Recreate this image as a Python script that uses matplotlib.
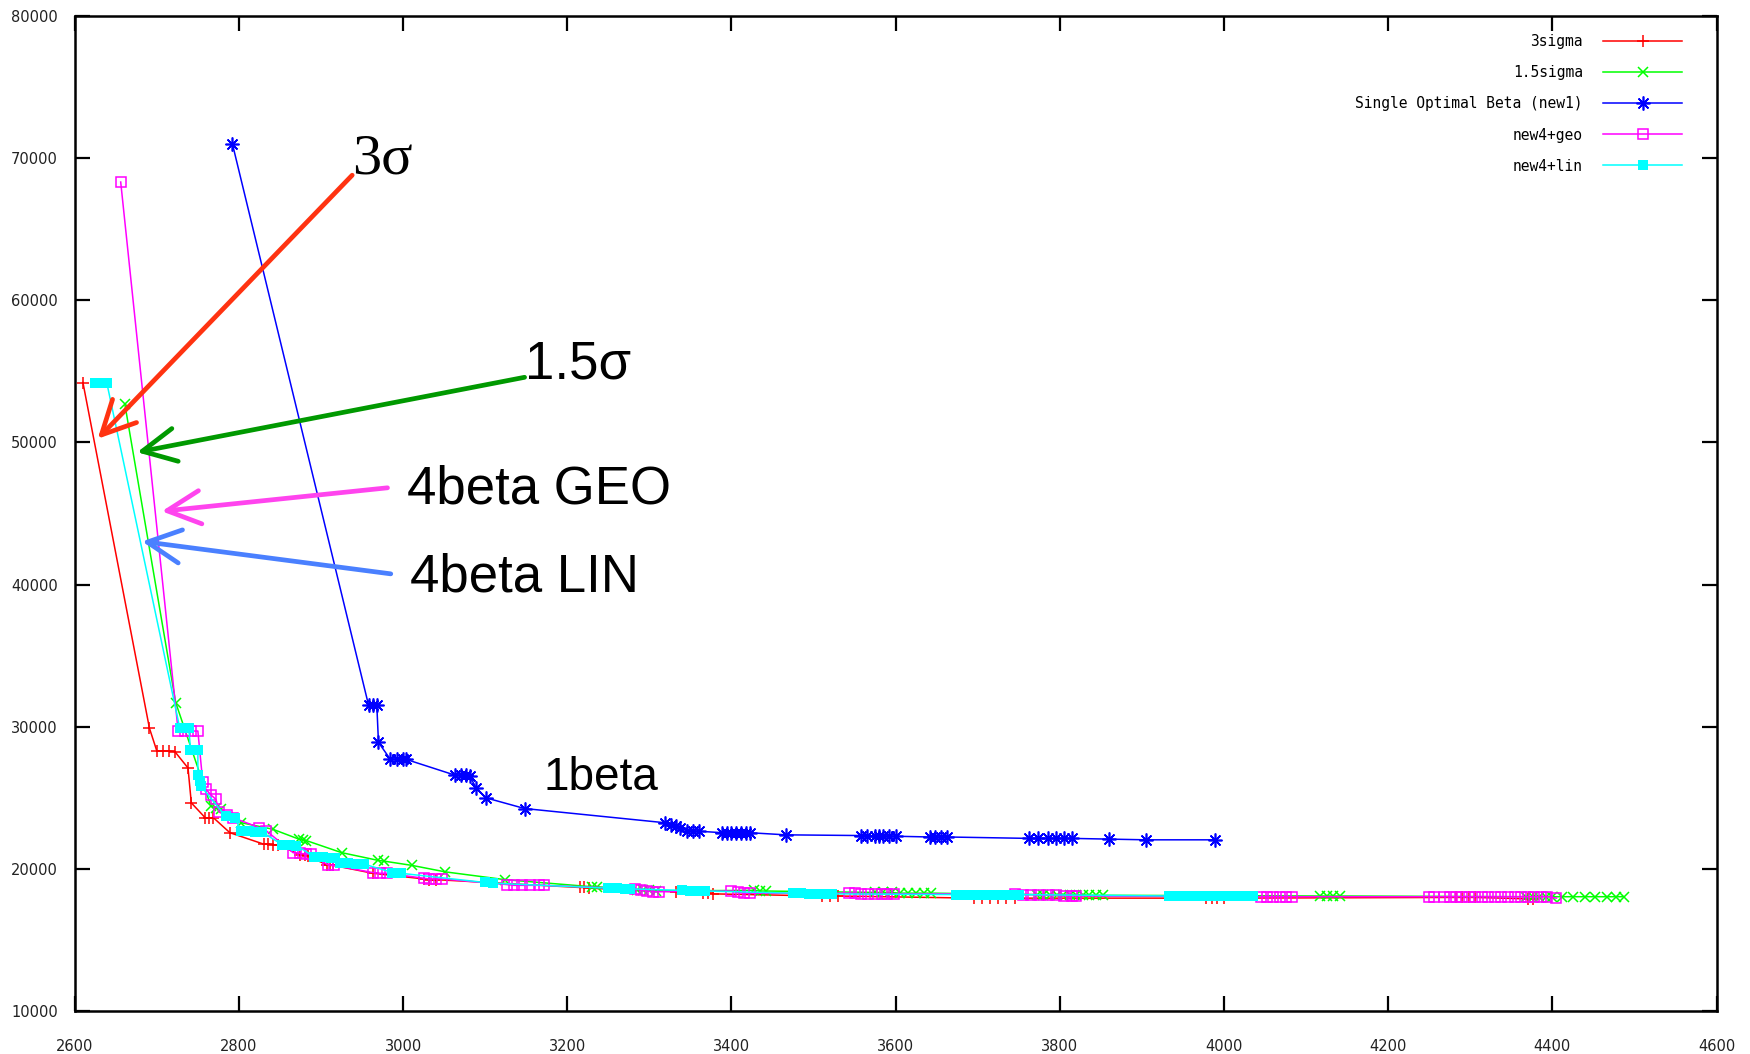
import matplotlib
matplotlib.use("Agg")
import matplotlib.pyplot as plt

# 3sigma
red_x = [2610, 2691, 2700, 2708, 2715, 2722, 2738, 2742, 2759, 2764, 2769, 2789,
         2830, 2836, 2842, 2848, 2874, 2880, 2884, 2907, 2911, 2915, 2963,
         3025, 3032, 3040, 3215, 3220, 3226, 3333, 3365, 3372, 3378, 3510, 3520, 3530,
         3695, 3705, 3715, 3725, 3735, 3745, 3978, 3985, 3992, 4000,
         4282, 4290, 4298, 4306, 4370, 4376]
red_y = [54200, 29900, 28300, 28300, 28300, 28250, 27100, 24650, 23600, 23600, 23600, 22550,
         21750, 21750, 21700, 21700, 21000, 20950, 20900, 20300, 20250, 20250, 19700,
         19300, 19250, 19250, 18700, 18700, 18650, 18400, 18300, 18300, 18250, 18100, 18100, 18100,
         17950, 17950, 17950, 17950, 17950, 17950, 17950, 17950, 17950, 17950,
         18000, 18000, 18000, 18000, 17900, 17900]

# 1.5sigma
green_x = [2661, 2723, 2766, 2772, 2778, 2803, 2841, 2873, 2878, 2882, 2925, 2970, 2977,
           3011, 3051, 3124, 3230, 3236, 3285, 3292, 3300, 3308, 3428, 3435, 3442,
           3575, 3585, 3595, 3605, 3615, 3625, 3635, 3643,
           3772, 3780, 3788, 3796, 3804, 3812, 3820, 3828, 3836, 3844, 3852,
           4117, 4125, 4133, 4141,
           4368, 4376, 4384, 4392, 4400, 4412, 4425, 4440, 4452, 4466, 4478, 4487]
green_y = [52700, 31700, 24400, 24300, 24200, 23250, 22800, 22100, 22050, 22000, 21150, 20600, 20550,
           20250, 19800, 19250, 18750, 18750, 18550, 18500, 18500, 18450, 18500, 18450, 18450,
           18350, 18350, 18350, 18300, 18300, 18300, 18300, 18300,
           18200, 18200, 18200, 18200, 18200, 18200, 18200, 18200, 18150, 18150, 18150,
           18100, 18100, 18100, 18100,
           18050, 18050, 18050, 18050, 18050, 18050, 18050, 18050, 18050, 18050, 18050, 18050]

# Single Optimal Beta (new1)
blue_x = [2792, 2958, 2963, 2968, 2970, 2984, 2992, 3000, 3004, 3063, 3070, 3077, 3081,
          3089, 3101, 3148, 3319, 3326, 3332, 3337, 3346, 3353, 3361,
          3389, 3395, 3400, 3405, 3412, 3418, 3422, 3466,
          3558, 3565, 3575, 3580, 3585, 3592, 3601, 3642, 3648, 3655, 3662,
          3763, 3774, 3785, 3795, 3805, 3815, 3860, 3905, 3989]
blue_y = [71000, 31500, 31500, 31500, 28900, 27750, 27700, 27700, 27700, 26600, 26600, 26600, 26550,
          25700, 25000, 24250, 23250, 23100, 23050, 22900, 22700, 22650, 22650,
          22550, 22550, 22550, 22550, 22550, 22550, 22550, 22400,
          22350, 22350, 22300, 22300, 22300, 22300, 22300, 22250, 22250, 22250, 22250,
          22150, 22150, 22150, 22150, 22150, 22150, 22100, 22050, 22050]

# new4+geo
mag_x = [2656, 2726, 2734, 2742, 2750, 2756, 2760, 2766, 2772, 2776, 2785, 2793, 2825, 2833,
         2866, 2874, 2882, 2888, 2908, 2916, 2963, 2972, 2980, 3025, 3032, 3040, 3047,
         3127, 3135, 3145, 3155, 3165, 3172, 3283, 3290, 3297, 3305, 3312,
         3400, 3408, 3415, 3422, 3543, 3550, 3558, 3566, 3575, 3583, 3590, 3598,
         3745, 3755, 3765, 3775, 3785, 3795, 3805, 3815, 3820,
         4045, 4052, 4060, 4068, 4076, 4083,
         4250, 4256, 4268, 4275, 4282, 4290, 4298, 4306, 4314, 4322, 4330, 4338,
         4346, 4354, 4362, 4370, 4378, 4386, 4394, 4405]
mag_y = [68300, 29700, 29700, 29700, 29700, 26100, 25600, 25200, 24900, 24000, 23800, 23600, 22900, 22700,
         21150, 21100, 21050, 21050, 20300, 20250, 19750, 19700, 19700, 19350, 19300, 19300, 19300,
         18900, 18850, 18850, 18850, 18850, 18850, 18600, 18500, 18450, 18400, 18400,
         18450, 18350, 18300, 18300, 18300, 18300, 18250, 18250, 18250, 18250, 18250, 18250,
         18250, 18200, 18200, 18150, 18150, 18150, 18100, 18100, 18100,
         18050, 18050, 18050, 18050, 18050, 18050,
         18050, 18050, 18050, 18050, 18050, 18050, 18050, 18050, 18050, 18050, 18050, 18050,
         18050, 18050, 18050, 18050, 18050, 18050, 18050, 17950]

# new4+lin
cyan_x = [2625, 2632, 2639, 2728, 2734, 2739, 2741, 2746, 2750, 2750, 2752, 2754,
          2784, 2795, 2803, 2812, 2820, 2828, 2853, 2862, 2870, 2892, 2902, 2912, 2917,
          2923, 2933, 2943, 2952, 2987, 2997, 3100, 3110, 3250, 3260, 3270, 3276,
          3340, 3350, 3360, 3368, 3475, 3485, 3495, 3505, 3515, 3522,
          3673, 3683, 3693, 3703, 3713, 3723, 3733, 3743, 3750,
          3933, 3943, 3953, 3963, 3973, 3983, 3993, 4003, 4013, 4023, 4035]
cyan_y = [54200, 54200, 54200, 29900, 29900, 29900, 28400, 28400, 28400, 26600, 26200, 25800,
          23700, 23600, 22650, 22650, 22600, 22600, 21700, 21700, 21650, 20850, 20850, 20800, 20800,
          20400, 20400, 20350, 20350, 19750, 19700, 19050, 19000, 18650, 18650, 18600, 18600,
          18500, 18450, 18450, 18450, 18300, 18300, 18250, 18250, 18250, 18250,
          18200, 18200, 18200, 18200, 18200, 18200, 18200, 18200, 18200,
          18100, 18100, 18100, 18100, 18100, 18100, 18100, 18100, 18100, 18100, 18100]

x_ticks = list(range(2600, 4601, 200))
y_ticks = list(range(10000, 80001, 10000))

fig = plt.figure(figsize=(17.5, 10.54), dpi=100)
ax = fig.add_axes([0.0427, 0.0406, 0.9382, 0.9446])

ax.plot(red_x, red_y, color='#ff0000', lw=1.1, marker='+', ms=8, mew=1.1, label='3sigma')
ax.plot(green_x, green_y, color='#00ff00', lw=1.1, marker='x', ms=7, mew=1.1, label='1.5sigma')
ax.plot(blue_x, blue_y, color='#0000ff', lw=1.1, marker=(8, 2, 0), ms=10, mew=1.2,
        label='Single Optimal Beta (new1)')
ax.plot(mag_x, mag_y, color='#ff00ff', lw=1.1, marker='s', ms=6.5, mfc='none', mew=1.1,
        label='new4+geo')
ax.plot(cyan_x, cyan_y, color='#00ffff', lw=1.1, marker='s', ms=7, mew=0, label='new4+lin')

ax.set_xlim(2600, 4600)
ax.set_ylim(10000, 80000)
ax.set_xticks(x_ticks)
ax.set_yticks(y_ticks)
ax.tick_params(direction='in', length=11, width=1.6, top=True, right=True,
               labelsize=10.5, labelcolor='#222222')
ax.tick_params(axis='x', pad=20)
ax.tick_params(axis='y', pad=12)
for s in ax.spines.values():
    s.set_linewidth(1.8)

ax.legend(loc='upper right', bbox_to_anchor=(0.9825, 0.987), borderaxespad=0,
          markerfirst=False, frameon=False, numpoints=1,
          prop=dict(family='DejaVu Sans Mono', size=10.5),
          handlelength=5.4, labelspacing=1.1, handletextpad=1.4)

# annotations
arrow_kw = dict(arrowstyle='->', lw=3.4, mutation_scale=60, shrinkA=0, shrinkB=0)
ax.annotate('', xy=(2628, 50250), xytext=(2938, 68780),
            arrowprops=dict(color='#ff3311', **arrow_kw))
ax.annotate('', xy=(2676, 49300), xytext=(3148, 54570),
            arrowprops=dict(color='#009900', **arrow_kw))
ax.annotate('', xy=(2706, 45150), xytext=(2981, 46800),
            arrowprops=dict(color='#ff44ee', **arrow_kw))
ax.annotate('', xy=(2682, 43030), xytext=(2985, 40750),
            arrowprops=dict(color='#4a80ff', **arrow_kw))

ax.text(2938, 69900, '3σ', fontsize=42, family='Liberation Serif', va='center', ha='left')
ax.text(3148, 55500, '1.5σ', fontsize=38, family='Liberation Sans', va='center', ha='left')
ax.text(3005, 46700, '4beta GEO', fontsize=38, family='Liberation Sans', va='center', ha='left')
ax.text(3008, 40500, '4beta LIN', fontsize=38, family='Liberation Sans', va='center', ha='left')
ax.text(3171, 26400, '1beta', fontsize=33, family='Liberation Sans', va='center', ha='left')

fig.savefig('out.png', dpi=100)
